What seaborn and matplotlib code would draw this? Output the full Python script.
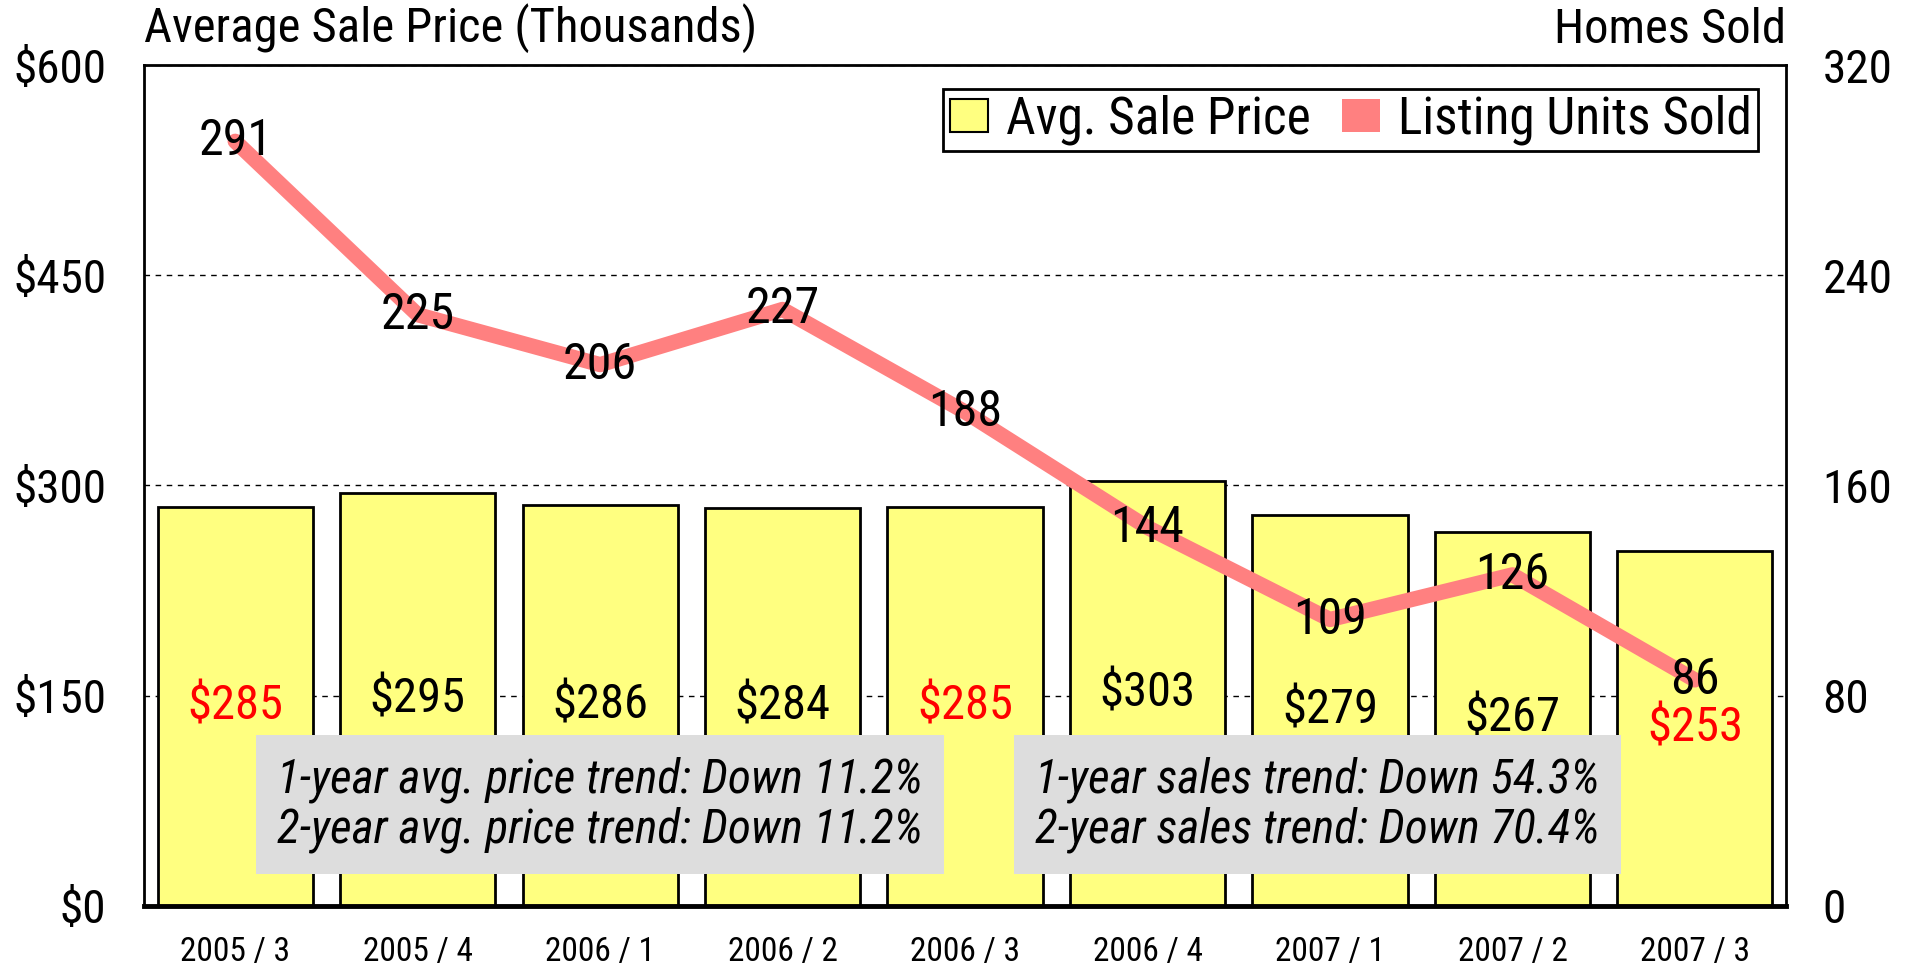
import matplotlib
matplotlib.use("Agg")
import matplotlib.pyplot as plt
from matplotlib.patches import Patch
import numpy as np
import pandas as pd
import seaborn as sns

# data
quarters = ["2005 / 3", "2005 / 4", "2006 / 1", "2006 / 2", "2006 / 3",
            "2006 / 4", "2007 / 1", "2007 / 2", "2007 / 3"]
avg_price = [285, 295, 286, 284, 285, 303, 279, 267, 253]
units_sold = [291, 225, 206, 227, 188, 144, 109, 126, 86]
red_labels = [True, False, False, False, True, False, False, False, True]

price_notes = "1-year avg. price trend: Down 11.2%\n2-year avg. price trend: Down 11.2%"
sales_notes = "1-year sales trend: Down 54.3%\n2-year sales trend: Down 70.4%"

df = pd.DataFrame({"quarter": quarters, "price": avg_price, "units": units_sold})
df["pos"] = np.arange(len(df))

sns.set_theme(style="white")
plt.rcParams["font.family"] = ["Roboto Condensed", "Liberation Sans", "DejaVu Sans"]
plt.rcParams["text.color"] = "black"
plt.rcParams["xtick.color"] = "black"
plt.rcParams["ytick.color"] = "black"

fig = plt.figure(figsize=(19.14, 9.71), dpi=100)
ax = fig.add_axes([0.0752, 0.067, 0.858, 0.866])

ax.yaxis.grid(True, color="black", linestyle=(0, (4, 4)), linewidth=1)
ax.set_axisbelow(True)

sns.barplot(data=df, x="quarter", y="price", color="#FFFF80", saturation=1,
            edgecolor="black", linewidth=2, width=0.85, ax=ax)
ax.set_xlim(-0.5, len(quarters) - 0.5)
ax.set_ylim(0, 600)
ax.set_yticks([0, 150, 300, 450, 600])
ax.set_yticklabels(["$0", "$150", "$300", "$450", "$600"])
ax.set_xlabel("")
ax.set_ylabel("")
ax.tick_params(axis="y", labelsize=34, length=0, pad=27)
ax.tick_params(axis="x", labelsize=24, length=0, pad=22)
for sp in ax.spines.values():
    sp.set_color("black")
    sp.set_linewidth(2)
ax.spines["bottom"].set_linewidth(3.5)

for i, v in enumerate(avg_price):
    ax.text(i, v / 2, f"${v}", ha="center", va="center", fontsize=35,
            color="red" if red_labels[i] else "black", zorder=6)

ax2 = ax.twinx()
sns.lineplot(data=df, x="pos", y="units", color="#FF8080", linewidth=11,
             ax=ax2, zorder=4)
ax2.set_ylim(0, 320)
ax2.set_yticks([0, 80, 160, 240, 320])
ax2.set_xlim(-0.5, len(quarters) - 0.5)
ax2.set_xlabel("")
ax2.set_ylabel("")
ax2.tick_params(axis="y", labelsize=34, length=0, pad=26)
for sp in ax2.spines.values():
    sp.set_visible(False)
for i, v in enumerate(units_sold):
    ax2.text(i, v, str(v), ha="center", va="center", fontsize=36, zorder=6)

box = dict(boxstyle="square,pad=0.45", facecolor="#DDDDDD", edgecolor="none")
ax2.text(2, 72.5 * 320 / 600, price_notes, ha="center", va="center", fontsize=34,
         style="italic", linespacing=1.1, bbox=box, zorder=7)
ax2.text(5.93, 72.5 * 320 / 600, sales_notes, ha="center", va="center", fontsize=34,
         style="italic", linespacing=1.1, bbox=box, zorder=7)

handles = [Patch(facecolor="#FFFF80", edgecolor="black", linewidth=1.5),
           Patch(facecolor="#FF8080", edgecolor="none")]
leg = ax2.legend(handles, ["Avg. Sale Price", "Listing Units Sold"], loc="upper right",
                 ncol=2, fontsize=37, frameon=True, fancybox=False, framealpha=1,
                 edgecolor="black", bbox_to_anchor=(0.983, 0.972), borderaxespad=0,
                 handlelength=0.75, handleheight=0.6, handletextpad=0.35,
                 columnspacing=0.6, borderpad=0.12)
leg.get_frame().set_linewidth(2)

fig.text(0.0752, 0.945, "Average Sale Price (Thousands)", ha="left", va="bottom", fontsize=35)
fig.text(0.9331, 0.945, "Homes Sold", ha="right", va="bottom", fontsize=35)

fig.savefig("out.png", dpi=100)
